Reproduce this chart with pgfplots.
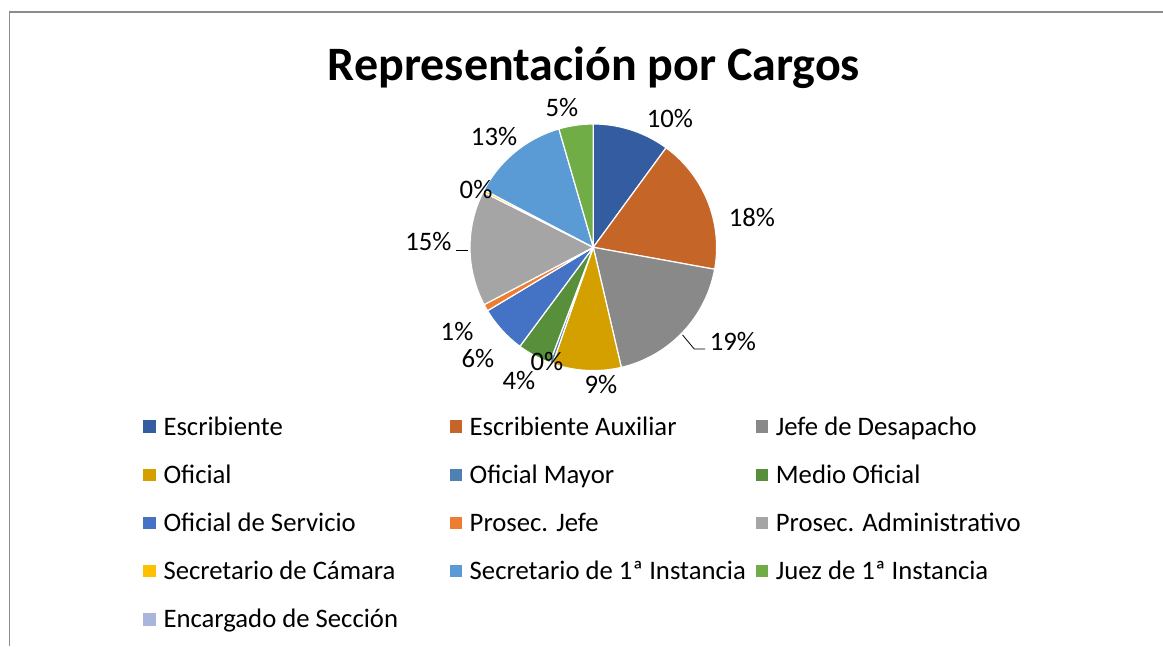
\documentclass[border=0pt]{standalone}
\usepackage{pgfplots}
\pgfplotsset{compat=1.18}
\usepackage{pgfplotstable}
\usepackage{fontspec}
\setmainfont{Carlito}

\definecolor{c0}{RGB}{52,92,160}
\definecolor{c1}{RGB}{198,101,40}
\definecolor{c2}{RGB}{137,137,137}
\definecolor{c3}{RGB}{212,160,0}
\definecolor{c4}{RGB}{76,129,177}
\definecolor{c5}{RGB}{87,143,58}
\definecolor{c6}{RGB}{68,114,196}
\definecolor{c7}{RGB}{237,125,49}
\definecolor{c8}{RGB}{165,165,165}
\definecolor{c9}{RGB}{255,192,0}
\definecolor{c10}{RGB}{91,155,213}
\definecolor{c11}{RGB}{112,173,71}
\definecolor{c12}{RGB}{169,182,219}
\definecolor{framegray}{RGB}{140,140,140}

\pgfplotstableread{
value
10.05
17.8
18.5
9.0
0.4
4.4
6.25
0.9
15.1
0.3
12.8
4.5
0
}\piedata

\newcommand\lfont{\fontsize{26.7}{32}\selectfont}

\begin{document}
\begin{tikzpicture}
\path[use as bounding box] (0,0) rectangle (1163pt,646pt);
\pgfmathsetmacro\tot{0}
\pgfplotsforeachungrouped \i in {0,...,12}{%
  \pgfplotstablegetelem{\i}{value}\of\piedata
  \pgfmathsetmacro\tot{\tot+\pgfplotsretval}%
}
\def\cum{90}
\pgfplotsforeachungrouped \i in {0,...,12}{%
  \pgfplotstablegetelem{\i}{value}\of\piedata
  \pgfmathsetmacro\endang{\cum-360*\pgfplotsretval/\tot}%
  \expandafter\xdef\csname sA\i\endcsname{\cum}%
  \expandafter\xdef\csname sB\i\endcsname{\endang}%
  \xdef\cum{\endang}%
}
\draw[framegray, line width=1.5pt] (9.5pt,0pt) -- (9.5pt,634.2pt) -- (1163pt,634.2pt);
\node[font=\fontsize{48}{57}\selectfont\bfseries, anchor=base] at (594pt,565pt) {Representación por Cargos};
\begin{axis}[
  x=123.3pt, y=123.3pt,
  xmin=-1, xmax=1, ymin=-1, ymax=1,
  enlargelimits=false,
  hide axis, clip=false,
  at={(593.3pt,398.7pt)}, anchor=center,
  legend columns=3,
  legend cell align=left,
  legend image code/.code={\path[#1] (0pt,-6.35pt) rectangle (12.7pt,6.35pt);},
  legend style={draw=none, fill=none, inner sep=0pt, outer sep=0pt,
    at={(-1.3248,-0.1731)}, anchor=north west,
    font=\lfont,
    nodes={inner sep=0pt, text height=22pt, text depth=5pt},
    row sep=21.1pt,
    /tikz/every odd column/.append style={column sep=7.5pt},
    /tikz/every even column/.append style={column sep=0pt}},
]
\pgfplotsforeachungrouped \i in {0,...,11}{%
  \edef\tmp{\noexpand\addplot[forget plot, fill=c\i, draw=white, line width=1.2pt, line join=round, domain=\csname sB\i\endcsname:\csname sA\i\endcsname, samples=80] ({cos(x)},{sin(x)}) -- (0,0) -- cycle;}%
  \tmp
}
\addlegendimage{fill=c0, draw=none}\addlegendentry{\makebox[286pt][l]{Escribiente}}
\addlegendimage{fill=c1, draw=none}\addlegendentry{\makebox[286pt][l]{Escribiente Auxiliar}}
\addlegendimage{fill=c2, draw=none}\addlegendentry{\makebox[286pt][l]{Jefe de Desapacho}}
\addlegendimage{fill=c3, draw=none}\addlegendentry{\makebox[286pt][l]{Oficial}}
\addlegendimage{fill=c4, draw=none}\addlegendentry{\makebox[286pt][l]{Oficial Mayor}}
\addlegendimage{fill=c5, draw=none}\addlegendentry{\makebox[286pt][l]{Medio Oficial}}
\addlegendimage{fill=c6, draw=none}\addlegendentry{\makebox[286pt][l]{Oficial de Servicio}}
\addlegendimage{fill=c7, draw=none}\addlegendentry{\makebox[286pt][l]{Prosec. Jefe}}
\addlegendimage{fill=c8, draw=none}\addlegendentry{\makebox[286pt][l]{Prosec. Administrativo}}
\addlegendimage{fill=c9, draw=none}\addlegendentry{\makebox[286pt][l]{Secretario de Cámara}}
\addlegendimage{fill=c10, draw=none}\addlegendentry{\makebox[286pt][l]{Secretario de 1ª Instancia}}
\addlegendimage{fill=c11, draw=none}\addlegendentry{\makebox[286pt][l]{Juez de 1ª Instancia}}
\addlegendimage{fill=c12, draw=none}\addlegendentry{\makebox[286pt][l]{Encargado de Sección}}

\node[font=\lfont] at (axis cs:0.622,1.041) {10\%};
\node[font=\lfont] at (axis cs:1.287,0.238) {18\%};
\node[font=\lfont] at (axis cs:1.133,-0.760) {19\%};
\node[font=\lfont] at (axis cs:0.062,-1.109) {9\%};
\node[font=\lfont] at (axis cs:-0.376,-0.930) {0\%};
\node[font=\lfont] at (axis cs:-0.603,-1.084) {4\%};
\node[font=\lfont] at (axis cs:-0.935,-0.898) {6\%};
\node[font=\lfont] at (axis cs:-1.105,-0.679) {1\%};
\node[font=\lfont] at (axis cs:-1.337,0.043) {15\%};
\node[font=\lfont] at (axis cs:-0.951,0.465) {0\%};
\node[font=\lfont] at (axis cs:-0.805,0.895) {13\%};
\node[font=\lfont] at (axis cs:-0.254,1.130) {5\%};
\draw[black, line width=0.8pt] (axis cs:0.724,-0.711) -- (axis cs:0.819,-0.825) -- (axis cs:0.906,-0.825);
\draw[black, line width=0.8pt] (axis cs:-1.114,-0.022) -- (axis cs:-1.016,-0.022);
\end{axis}
\end{tikzpicture}
\end{document}
